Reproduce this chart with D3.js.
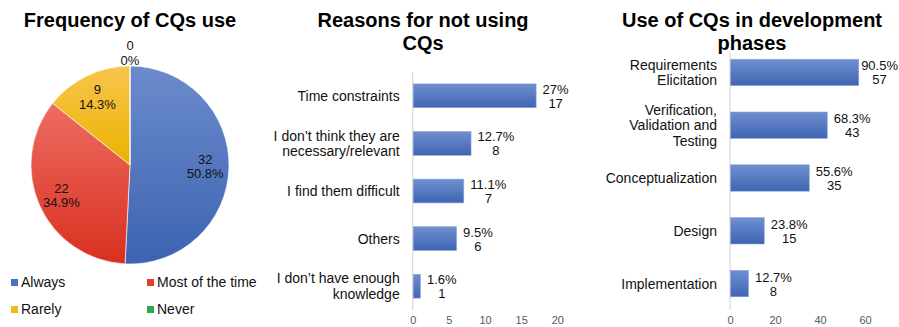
<!DOCTYPE html>
<html>
<head>
<meta charset="utf-8">
<script src="https://cdn.jsdelivr.net/npm/d3@7"></script>
<style>
  body { margin: 0; background: #fff; }
  svg { font-family: "Liberation Sans", Arial, sans-serif; }
</style>
</head>
<body>
<div id="chart"></div>
<script>
// Pie data
const pieLabels = ["Always", "Most of the time", "Rarely", "Never"];
const pieCounts = [32, 22, 9, 0];
const piePercents = ["50.8%", "34.9%", "14.3%", "0%"];

// Reasons for not using CQs
const reasonLabels = [["Time constraints"], ["I don’t think they are", "necessary/relevant"], ["I find them difficult"], ["Others"], ["I don’t have enough", "knowledge"]];
const reasonCounts = [17, 8, 7, 6, 1];
const reasonPercents = ["27%", "12.7%", "11.1%", "9.5%", "1.6%"];
const reasonTicks = [0, 5, 10, 15, 20];

// Use of CQs in development phases
const phaseLabels = [["Requirements", "Elicitation"], ["Verification,", "Validation and", "Testing"], ["Conceptualization"], ["Design"], ["Implementation"]];
const phaseCounts = [57, 43, 35, 15, 8];
const phasePercents = ["90.5%", "68.3%", "55.6%", "23.8%", "12.7%"];
const phaseTicks = [0, 20, 40, 60];

const width = 899, height = 327;
const svg = d3.select("#chart").append("svg")
  .attr("width", width)
  .attr("height", height);

const defs = svg.append("defs");
function addGradient(id, top, bottom) {
  const g = defs.append("linearGradient")
    .attr("id", id)
    .attr("x1", 0).attr("y1", 0).attr("x2", 0).attr("y2", 1);
  g.append("stop").attr("offset", "0%").attr("stop-color", top);
  g.append("stop").attr("offset", "100%").attr("stop-color", bottom);
}
addGradient("gBlue", "#6b8bcd", "#3d63b0");
addGradient("gRed", "#ee6c62", "#d9301f");
addGradient("gYellow", "#f8c54d", "#ebb200");
addGradient("gGreen", "#4cc068", "#23a043");
addGradient("gBar", "#6f8fd0", "#3f65b2");

const pieFills = ["url(#gBlue)", "url(#gRed)", "url(#gYellow)", "url(#gGreen)"];
const legendColors = ["#4a72be", "#e3402e", "#f3b90f", "#2ea84a"];

// ---------- Pie chart ----------
const pieCx = 130, pieCy = 165, pieR = 99;

svg.append("text")
  .attr("x", pieCx).attr("y", 27)
  .attr("text-anchor", "middle")
  .attr("font-size", 20).attr("font-weight", "bold")
  .text("Frequency of CQs use");

const pie = d3.pie().sort(null).value(d => d)(pieCounts);
const arc = d3.arc().innerRadius(0).outerRadius(pieR);
const labelArc = d3.arc().innerRadius(pieR * 0.76).outerRadius(pieR * 0.76);

const pieG = svg.append("g").attr("transform", `translate(${pieCx},${pieCy})`);
pieG.selectAll("path")
  .data(pie)
  .join("path")
    .attr("d", arc)
    .attr("fill", (d, i) => pieFills[i])
    .attr("stroke", "#fff")
    .attr("stroke-width", 0.6);

pieG.selectAll("text.plabel")
  .data(pie)
  .join("text")
    .attr("class", "plabel")
    .attr("text-anchor", "middle")
    .attr("font-size", 13)
    .attr("fill", "#111")
    .each(function(d, i) {
      let px, py;
      if (d.value === 0) {
        px = 0; py = -pieR - 13;
      } else {
        [px, py] = labelArc.centroid(d);
      }
      const t = d3.select(this);
      t.append("tspan").attr("x", px).attr("y", py - 3).text(pieCounts[i]);
      t.append("tspan").attr("x", px).attr("y", py + 11.5).text(piePercents[i]);
    });

// legend
const legend = svg.append("g").selectAll("g")
  .data(pieLabels)
  .join("g")
    .attr("transform", (d, i) => `translate(${11 + (i % 2) * 136},${279 + Math.floor(i / 2) * 27})`);
legend.append("rect")
  .attr("width", 7).attr("height", 7)
  .attr("fill", (d, i) => legendColors[i]);
legend.append("text")
  .attr("x", 10).attr("y", 8)
  .attr("font-size", 14)
  .attr("fill", "#111")
  .text(d => d);

// ---------- Bar charts ----------
function barChart(opts) {
  const g = svg.append("g");

  g.selectAll("text.title")
    .data(opts.title)
    .join("text")
      .attr("class", "title")
      .attr("x", opts.titleX)
      .attr("y", (d, i) => 27 + i * 23)
      .attr("text-anchor", "middle")
      .attr("font-size", 20).attr("font-weight", "bold")
      .text(d => d);

  const keys = opts.labels.map(l => l.join(" "));
  const x = d3.scaleLinear().domain(opts.domain).range(opts.xRange);
  const y = d3.scaleBand().domain(keys).range(opts.yRange).paddingInner(0.5).paddingOuter(0.25);

  // vertical axis line
  g.append("line")
    .attr("x1", x(0)).attr("x2", x(0))
    .attr("y1", opts.axisTop).attr("y2", opts.yRange[1])
    .attr("stroke", "#d9d9d9").attr("stroke-width", 1.2);

  g.selectAll("rect.bar")
    .data(opts.values)
    .join("rect")
      .attr("class", "bar")
      .attr("x", x(0) + 0.5)
      .attr("y", (d, i) => y(keys[i]))
      .attr("width", d => x(d) - x(0))
      .attr("height", y.bandwidth())
      .attr("fill", "url(#gBar)")
      .attr("stroke", "#8ea6da")
      .attr("stroke-width", 0.6);

  // category labels
  g.selectAll("text.cat")
    .data(opts.labels)
    .join("text")
      .attr("class", "cat")
      .attr("text-anchor", "end")
      .attr("font-size", 14)
      .attr("fill", "#111")
      .each(function(lines, i) {
        const cy = y(keys[i]) + y.bandwidth() / 2;
        const lh = 15.5;
        const t = d3.select(this);
        lines.forEach((ln, j) => {
          t.append("tspan")
            .attr("x", x(0) - 13)
            .attr("y", cy + 5 + (j - (lines.length - 1) / 2) * lh)
            .text(ln);
        });
      });

  // value labels
  g.selectAll("text.val")
    .data(opts.values)
    .join("text")
      .attr("class", "val")
      .attr("text-anchor", "middle")
      .attr("font-size", 13)
      .attr("fill", "#111")
      .each(function(v, i) {
        const cy = y(keys[i]) + y.bandwidth() / 2;
        const t = d3.select(this);
        const p = t.append("tspan").text(opts.percents[i]);
        const w = p.node().getComputedTextLength();
        const cx = Math.min(x(v) + 7 + w / 2, width - 1 - w / 2);
        p.attr("x", cx).attr("y", cy - 2);
        t.append("tspan").attr("x", cx).attr("y", cy + 12).text(v);
      });

  // x axis
  const axis = g.append("g")
    .attr("transform", `translate(0,${opts.yRange[1] + 1})`)
    .call(d3.axisBottom(x).tickValues(opts.ticks).tickSize(0).tickPadding(5));
  axis.select(".domain").remove();
  axis.selectAll("text")
    .attr("font-size", 11)
    .attr("font-family", "Liberation Sans, Arial, sans-serif")
    .attr("fill", "#595959");
}

barChart({
  title: ["Reasons for not using", "CQs"],
  titleX: 423,
  labels: reasonLabels,
  values: reasonCounts,
  percents: reasonPercents,
  ticks: reasonTicks,
  domain: [0, 20],
  xRange: [412.7, 557.3],
  yRange: [72, 310],
  axisTop: 72
});

barChart({
  title: ["Use of CQs in development", "phases"],
  titleX: 752,
  labels: phaseLabels,
  values: phaseCounts,
  percents: phasePercents,
  ticks: phaseTicks,
  domain: [0, 60],
  xRange: [730, 865],
  yRange: [46, 310],
  axisTop: 53
});
</script>
</body>
</html>
